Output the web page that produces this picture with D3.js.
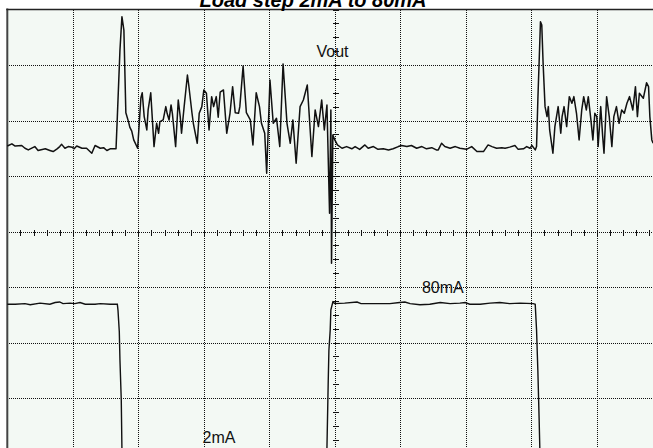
<!DOCTYPE html>
<html>
<head>
<meta charset="utf-8">
<script src="https://cdn.jsdelivr.net/npm/d3@7"></script>
<style>
  html, body { margin: 0; padding: 0; background: #ffffff; }
  svg { display: block; }
  .label { font-family: "Liberation Sans", Arial, sans-serif; font-size: 16px; fill: #111; }
  .title { font-family: "Liberation Sans", Arial, sans-serif; font-size: 20px; font-weight: bold; font-style: italic; fill: #000; }
</style>
</head>
<body>
<svg id="chart" width="653" height="448"></svg>
<script>
// screen divisions of the scope (time x volts), values in divisions
const timeDivs = [0, 1, 2, 3, 4, 5, 6, 7, 8, 9, 10];
const voltDivs = [-4, -3, -2, -1, 0, 1, 2, 3, 4];
const timeSubTicks = d3.range(0, 10.001, 0.2);
const voltSubTicks = d3.range(-4, 4.001, 0.25);

const titleText = "Load step 2mA to 80mA";

// Vout trace: [time div, level div]
const voutTrace = [
  [0.00, 1.54], [0.07, 1.58], [0.12, 1.54], [0.22, 1.55], [0.27, 1.50], [0.32, 1.47], [0.42, 1.53],
  [0.47, 1.46], [0.58, 1.49], [0.65, 1.46], [0.70, 1.44], [0.76, 1.49], [0.80, 1.53], [0.83, 1.57],
  [0.88, 1.50], [0.93, 1.53], [0.99, 1.52], [1.02, 1.49], [1.06, 1.54], [1.14, 1.50], [1.21, 1.50],
  [1.29, 1.41], [1.34, 1.55], [1.42, 1.50], [1.47, 1.51], [1.52, 1.46], [1.57, 1.49], [1.66, 1.49],
  [1.68, 2.07], [1.72, 3.27], [1.75, 3.87], [1.78, 3.63], [1.81, 2.14], [1.85, 1.98], [1.87, 1.88],
  [1.90, 1.81], [1.93, 1.65], [1.99, 1.50], [2.04, 2.41], [2.06, 2.50], [2.09, 2.07], [2.13, 1.83],
  [2.15, 2.19], [2.19, 2.50], [2.24, 1.53], [2.28, 1.95], [2.31, 1.77], [2.33, 1.98], [2.38, 2.01],
  [2.42, 2.25], [2.44, 2.13], [2.47, 2.01], [2.50, 2.28], [2.52, 2.13], [2.57, 1.53], [2.61, 2.37],
  [2.64, 2.07], [2.66, 1.77], [2.70, 2.25], [2.75, 2.82], [2.77, 2.64], [2.82, 2.13], [2.84, 1.95],
  [2.90, 1.59], [2.93, 2.13], [2.97, 2.25], [3.00, 2.55], [3.04, 2.49], [3.08, 1.83], [3.12, 2.43],
  [3.15, 2.25], [3.19, 2.43], [3.22, 2.06], [3.25, 2.51], [3.30, 2.55], [3.35, 1.77], [3.40, 2.13],
  [3.44, 2.61], [3.48, 2.14], [3.53, 2.13], [3.55, 2.25], [3.60, 2.98], [3.65, 2.14], [3.71, 2.01],
  [3.75, 1.56], [3.80, 2.50], [3.85, 2.25], [3.88, 1.95], [3.93, 1.77], [3.96, 1.05], [4.01, 2.73],
  [4.06, 1.95], [4.11, 2.04], [4.16, 1.53], [4.21, 3.02], [4.27, 1.95], [4.32, 1.59], [4.36, 2.01],
  [4.41, 1.23], [4.47, 2.25], [4.52, 2.37], [4.58, 2.64], [4.65, 1.35], [4.70, 2.19], [4.75, 1.89],
  [4.80, 2.37], [4.84, 1.83], [4.88, 2.28], [4.92, 0.33], [4.94, 2.19], [4.95, -0.57], [4.97, 1.74],
  [5.00, 1.65], [5.04, 1.56], [5.11, 1.50], [5.18, 1.53], [5.26, 1.49], [5.31, 1.53], [5.38, 1.48],
  [5.46, 1.56], [5.51, 1.50], [5.59, 1.53], [5.66, 1.48], [5.74, 1.49], [5.82, 1.47], [5.89, 1.49],
  [5.97, 1.53], [6.02, 1.55], [6.10, 1.53], [6.17, 1.55], [6.25, 1.50], [6.33, 1.53], [6.40, 1.49],
  [6.48, 1.51], [6.55, 1.47], [6.58, 1.47], [6.63, 1.59], [6.68, 1.53], [6.76, 1.50], [6.84, 1.53],
  [6.91, 1.50], [7.01, 1.48], [7.09, 1.53], [7.17, 1.44], [7.27, 1.44], [7.34, 1.56], [7.40, 1.53],
  [7.47, 1.50], [7.55, 1.51], [7.60, 1.50], [7.67, 1.52], [7.75, 1.55], [7.80, 1.48], [7.88, 1.49],
  [7.93, 1.53], [7.98, 1.50], [8.01, 1.55], [8.06, 1.47], [8.08, 1.53], [8.10, 2.37], [8.14, 3.78],
  [8.16, 3.72], [8.18, 3.04], [8.21, 2.25], [8.24, 2.07], [8.26, 2.25], [8.28, 1.83], [8.33, 1.41],
  [8.36, 1.89], [8.41, 2.25], [8.45, 1.77], [8.47, 2.07], [8.50, 2.25], [8.54, 1.89], [8.58, 2.43],
  [8.62, 2.31], [8.65, 2.43], [8.69, 2.13], [8.73, 1.65], [8.77, 2.19], [8.80, 2.43], [8.84, 2.19],
  [8.87, 2.43], [8.91, 2.01], [8.94, 1.65], [8.97, 2.13], [9.00, 2.07], [9.02, 1.53], [9.06, 2.25],
  [9.09, 1.71], [9.11, 1.41], [9.15, 2.43], [9.19, 2.07], [9.23, 1.53], [9.26, 2.07], [9.30, 2.25],
  [9.34, 1.95], [9.38, 2.19], [9.42, 2.13], [9.46, 2.31], [9.50, 2.43], [9.55, 2.19], [9.59, 2.61],
  [9.62, 2.07], [9.65, 2.49], [9.71, 2.40], [9.76, 2.68], [9.79, 2.61], [9.81, 2.07], [9.84, 1.65],
  [9.86, 1.59]
];

// load current trace: [time div, level div]
const currentTrace = [
  [0.00, -1.31], [0.12, -1.31], [0.27, -1.30], [0.35, -1.32], [0.50, -1.29], [0.65, -1.31],
  [0.73, -1.28], [0.80, -1.27], [0.85, -1.30], [0.96, -1.29], [1.03, -1.30], [1.11, -1.28],
  [1.19, -1.31], [1.34, -1.31], [1.42, -1.30], [1.57, -1.31], [1.68, -1.31], [1.69, -1.42],
  [1.71, -1.81], [1.72, -2.32], [1.74, -3.04], [1.75, -3.90], [1.76, -4.12], [4.87, -4.12],
  [4.88, -3.90], [4.90, -2.68], [4.91, -2.14], [4.93, -1.77], [4.94, -1.41], [4.97, -1.27],
  [5.00, -1.30], [5.15, -1.29], [5.34, -1.27], [5.40, -1.30], [5.84, -1.30], [5.99, -1.28],
  [6.07, -1.27], [6.15, -1.30], [6.30, -1.32], [6.45, -1.31], [6.61, -1.28], [6.76, -1.30],
  [6.91, -1.29], [6.99, -1.28], [7.06, -1.31], [7.22, -1.31], [7.37, -1.29], [7.52, -1.28],
  [7.67, -1.30], [7.83, -1.29], [8.03, -1.30], [8.06, -1.31], [8.08, -1.77], [8.10, -2.50],
  [8.12, -3.40], [8.13, -3.90], [8.14, -4.12], [10.0, -4.12]
];

// channel labels: [text, time div, level div]
const traceLabels = [
  ["Vout", 4.72, 3.14],
  ["80mA", 6.33, -1.10],
  ["2mA", 2.98, -3.81]
];

const svg = d3.select("#chart");
const plot = { left: 7.3, top: 9.5, width: 655, height: 444 };

const x = d3.scaleLinear().domain([0, 10]).range([plot.left, plot.left + plot.width]);
const y = d3.scaleLinear().domain([-4, 4]).range([plot.top + plot.height, plot.top]);

// screen background
svg.append("rect")
    .attr("x", x(0)).attr("y", y(4))
    .attr("width", x(10) - x(0)).attr("height", y(-4) - y(4))
    .attr("fill", "#f3f9f4");

const grid = svg.append("g").attr("stroke", "#111").attr("stroke-width", 1)
    .attr("stroke-dasharray", "1,1").attr("shape-rendering", "crispEdges");

grid.selectAll(".vgrid").data(timeDivs.slice(1, -1)).enter().append("line")
    .attr("class", "vgrid")
    .attr("x1", d => Math.round(x(d)) + 0.5).attr("x2", d => Math.round(x(d)) + 0.5)
    .attr("y1", y(4)).attr("y2", y(-4));

grid.selectAll(".hgrid").data(voltDivs.slice(1, -1)).enter().append("line")
    .attr("class", "hgrid")
    .attr("y1", d => Math.round(y(d)) + 0.5).attr("y2", d => Math.round(y(d)) + 0.5)
    .attr("x1", x(0)).attr("x2", x(10));

// minor ticks on the centre axes
const ticks = svg.append("g").attr("stroke", "#111").attr("stroke-width", 1).attr("shape-rendering", "crispEdges");
const cy = Math.round(y(0)) + 0.5;
const cx = Math.round(x(5)) + 0.5;

ticks.selectAll(".xt").data(timeSubTicks).enter().append("line")
    .attr("class", "xt")
    .attr("x1", d => Math.round(x(d)) + 0.5).attr("x2", d => Math.round(x(d)) + 0.5)
    .attr("y1", cy - 3).attr("y2", cy + 3);

ticks.selectAll(".yt").data(voltSubTicks).enter().append("line")
    .attr("class", "yt")
    .attr("y1", d => Math.round(y(d)) + 0.5).attr("y2", d => Math.round(y(d)) + 0.5)
    .attr("x1", cx - 3).attr("x2", cx + 3);

// frame (only the left and top edges fall inside the picture)
svg.append("line")
    .attr("x1", x(0)).attr("x2", x(0)).attr("y1", y(4) - 1).attr("y2", y(-4))
    .attr("stroke", "#444").attr("stroke-width", 2);
svg.append("line")
    .attr("x1", x(0) - 1).attr("x2", x(10)).attr("y1", y(4)).attr("y2", y(4))
    .attr("stroke", "#222").attr("stroke-width", 1.5);

const line = d3.line().x(d => x(d[0])).y(d => y(d[1]));

svg.append("path")
    .datum(currentTrace)
    .attr("fill", "none").attr("stroke", "#111").attr("stroke-width", 1.4)
    .attr("d", line);

svg.append("path")
    .datum(voutTrace)
    .attr("fill", "none").attr("stroke", "#111").attr("stroke-width", 1.5)
    .attr("stroke-linejoin", "round")
    .attr("d", line);

svg.selectAll(".label").data(traceLabels).enter().append("text")
    .attr("class", "label")
    .attr("x", d => x(d[1])).attr("y", d => y(d[2]))
    .text(d => d[0]);

svg.append("text")
    .attr("class", "title")
    .attr("x", 313).attr("y", 7)
    .attr("text-anchor", "middle")
    .text(titleText);
</script>
</body>
</html>
